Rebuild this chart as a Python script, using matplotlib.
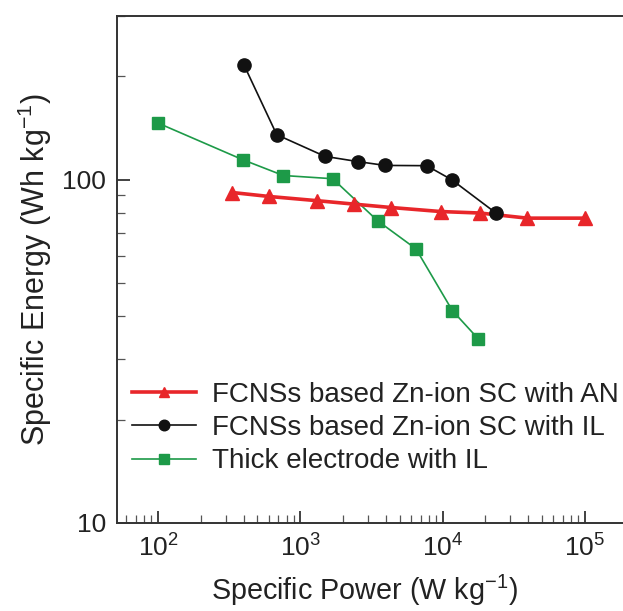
import numpy as np
import matplotlib
matplotlib.use('Agg')
import matplotlib.pyplot as plt
from matplotlib.ticker import LogLocator, NullFormatter, FixedLocator

plt.rcParams['font.family'] = ['Liberation Sans', 'DejaVu Sans']

# ---- data ----
an_power = [333, 603, 1316, 2400, 4370, 9700, 18300, 39400, 100000]
an_energy = [91.8, 89.4, 86.9, 84.9, 83.0, 80.8, 80.0, 77.3, 77.3]

il_power = [402, 683, 1490, 2530, 3940, 7730, 11600, 23700]
il_energy = [216, 135.3, 117.0, 113.0, 110.1, 109.9, 100.0, 80.0]

thick_power = [100, 394, 760, 1690, 3500, 6500, 11700, 17800]
thick_energy = [146.3, 114.4, 102.9, 100.7, 75.9, 62.9, 41.6, 34.4]

labels = ['FCNSs based Zn-ion SC with AN',
          'FCNSs based Zn-ion SC with IL',
          'Thick electrode with IL']

RED = '#e8262a'
GREEN = '#1d9a48'
BLACK = '#111111'

fig = plt.figure(figsize=(6.23, 6.11), dpi=100)
ax = fig.add_axes([117/623, 88/611, 509/623, 507/611])

ax.plot(an_power, an_energy, color=RED, lw=2.6, marker='^', ms=9.5,
        mec=RED, mfc=RED, label=labels[0], zorder=3)
ax.plot(il_power, il_energy, color=BLACK, lw=1.2, marker='o', ms=9.5,
        mec=BLACK, mfc=BLACK, label=labels[1], zorder=4)
ax.plot(thick_power, thick_energy, color=GREEN, lw=1.2, marker='s', ms=8.5,
        mec=GREEN, mfc=GREEN, label=labels[2], zorder=2)

ax.set_xscale('log')
ax.set_yscale('log')
ax.set_xlim(51.5, 194500)
ax.set_ylim(10, 300)

ax.xaxis.set_major_locator(FixedLocator([1e2, 1e3, 1e4, 1e5]))
ax.xaxis.set_minor_locator(LogLocator(base=10, subs=np.arange(2, 10), numticks=20))
ax.xaxis.set_minor_formatter(NullFormatter())
ax.set_xticklabels(['$\\mathregular{10^{2}}$', '$\\mathregular{10^{3}}$',
                    '$\\mathregular{10^{4}}$', '$\\mathregular{10^{5}}$'])

ax.yaxis.set_major_locator(FixedLocator([10, 100]))
ax.yaxis.set_minor_locator(LogLocator(base=10, subs=np.arange(2, 10), numticks=20))
ax.yaxis.set_minor_formatter(NullFormatter())
ax.set_yticklabels(['10', '100'])

ax.tick_params(which='major', direction='in', length=9, width=1.3,
               labelsize=19, colors='#333333', labelcolor='#222222', pad=8)
ax.tick_params(which='minor', direction='in', length=6, width=0.9, colors='#555555')

for side in ['left', 'bottom', 'top', 'right']:
    ax.spines[side].set_linewidth(1.4)
    ax.spines[side].set_color('#333333')

ax.set_xlabel('Specific Power (W kg$^{\\mathregular{-1}}$)', fontsize=20.7,
              color='#222222', labelpad=6)
ax.xaxis.set_label_coords(0.486, -0.098)
ax.set_ylabel('Specific Energy (Wh kg$^{\\mathregular{-1}}$)', fontsize=22,
              color='#222222', labelpad=6)

ax.legend(loc='center left', bbox_to_anchor=(0.0295, 0.187), frameon=False,
          fontsize=20, handlelength=2.3, handletextpad=0.58,
          labelspacing=0.26, markerscale=0.8, borderaxespad=0, borderpad=0,
          labelcolor='#222222')

fig.savefig('out.png', dpi=100)
